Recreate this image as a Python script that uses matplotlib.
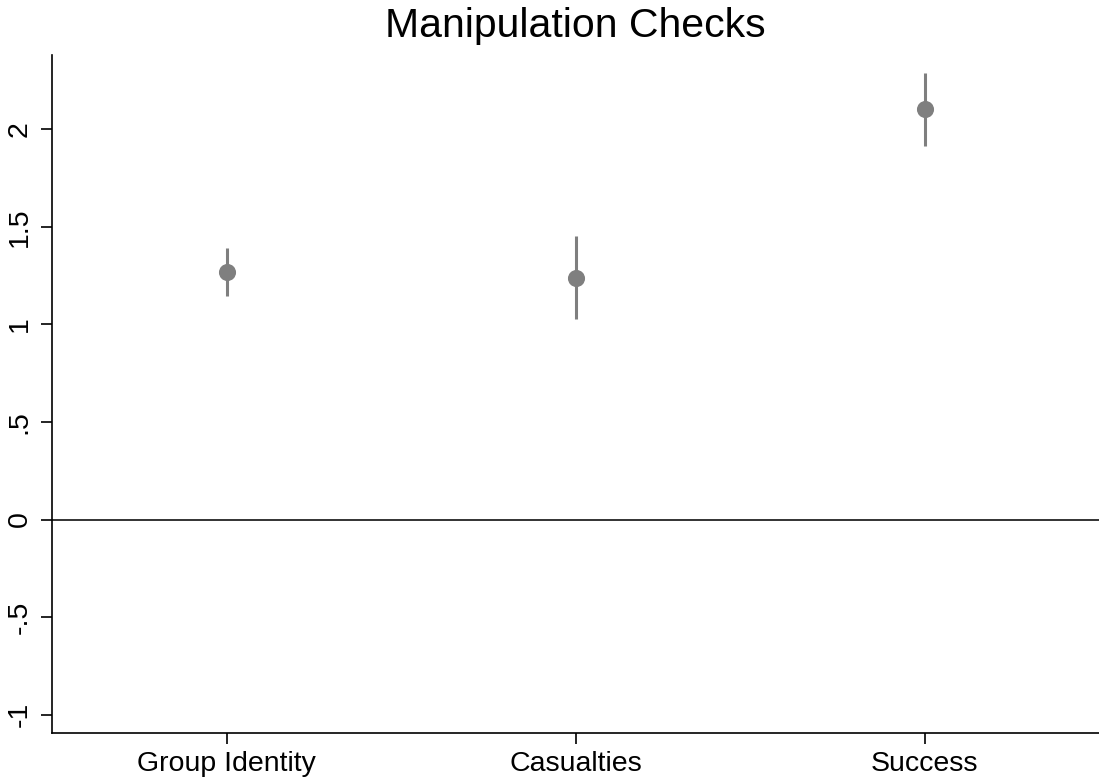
import matplotlib
matplotlib.use("Agg")
import matplotlib.pyplot as plt

plt.rcParams['font.family'] = ['Liberation Sans', 'DejaVu Sans']

categories = ["Group Identity", "Casualties", "Success"]
estimates = [1.271, 1.237, 2.103]
ci_low = [1.147, 1.029, 1.916]
ci_high = [1.391, 1.454, 2.287]
yticks = [-1, -0.5, 0, 0.5, 1, 1.5, 2]
yticklabels = ["-1", "-.5", "0", ".5", "1", "1.5", "2"]

fig = plt.figure(figsize=(10.99, 7.84), dpi=100)
ax = fig.add_axes([52 / 1099, 51 / 784, 1 - 52 / 1099, (733 - 55) / 784])

xs = list(range(1, len(categories) + 1))
ax.axhline(0, color="#333333", lw=1.4, zorder=1)
for x, lo, hi in zip(xs, ci_low, ci_high):
    ax.plot([x, x], [lo, hi], color="#7f7f7f", lw=2.2, solid_capstyle="butt", zorder=2)
ax.plot(xs, estimates, "o", color="#7f7f7f", markersize=11.3, zorder=3)

ax.set_xlim(0.5, 3.5)
ax.set_ylim(-1.094, 2.381)
ax.set_xticks(xs)
ax.set_xticklabels(categories, fontsize=20.5)
ax.set_yticks(yticks)
ax.set_yticklabels(yticklabels, fontsize=20.5, rotation=90, va="center")
ax.tick_params(axis="both", length=8, width=1.2, color="black")
ax.tick_params(axis="x", pad=5)
ax.tick_params(axis="y", pad=6)
for s in ("top", "right"):
    ax.spines[s].set_visible(False)
for s in ("left", "bottom"):
    ax.spines[s].set_linewidth(1.2)

fig.text(0.5 * (52 / 1099 + 1), 1 - 26 / 784, "Manipulation Checks", ha="center", va="center", fontsize=29.5)

fig.savefig("out.png", dpi=100)
